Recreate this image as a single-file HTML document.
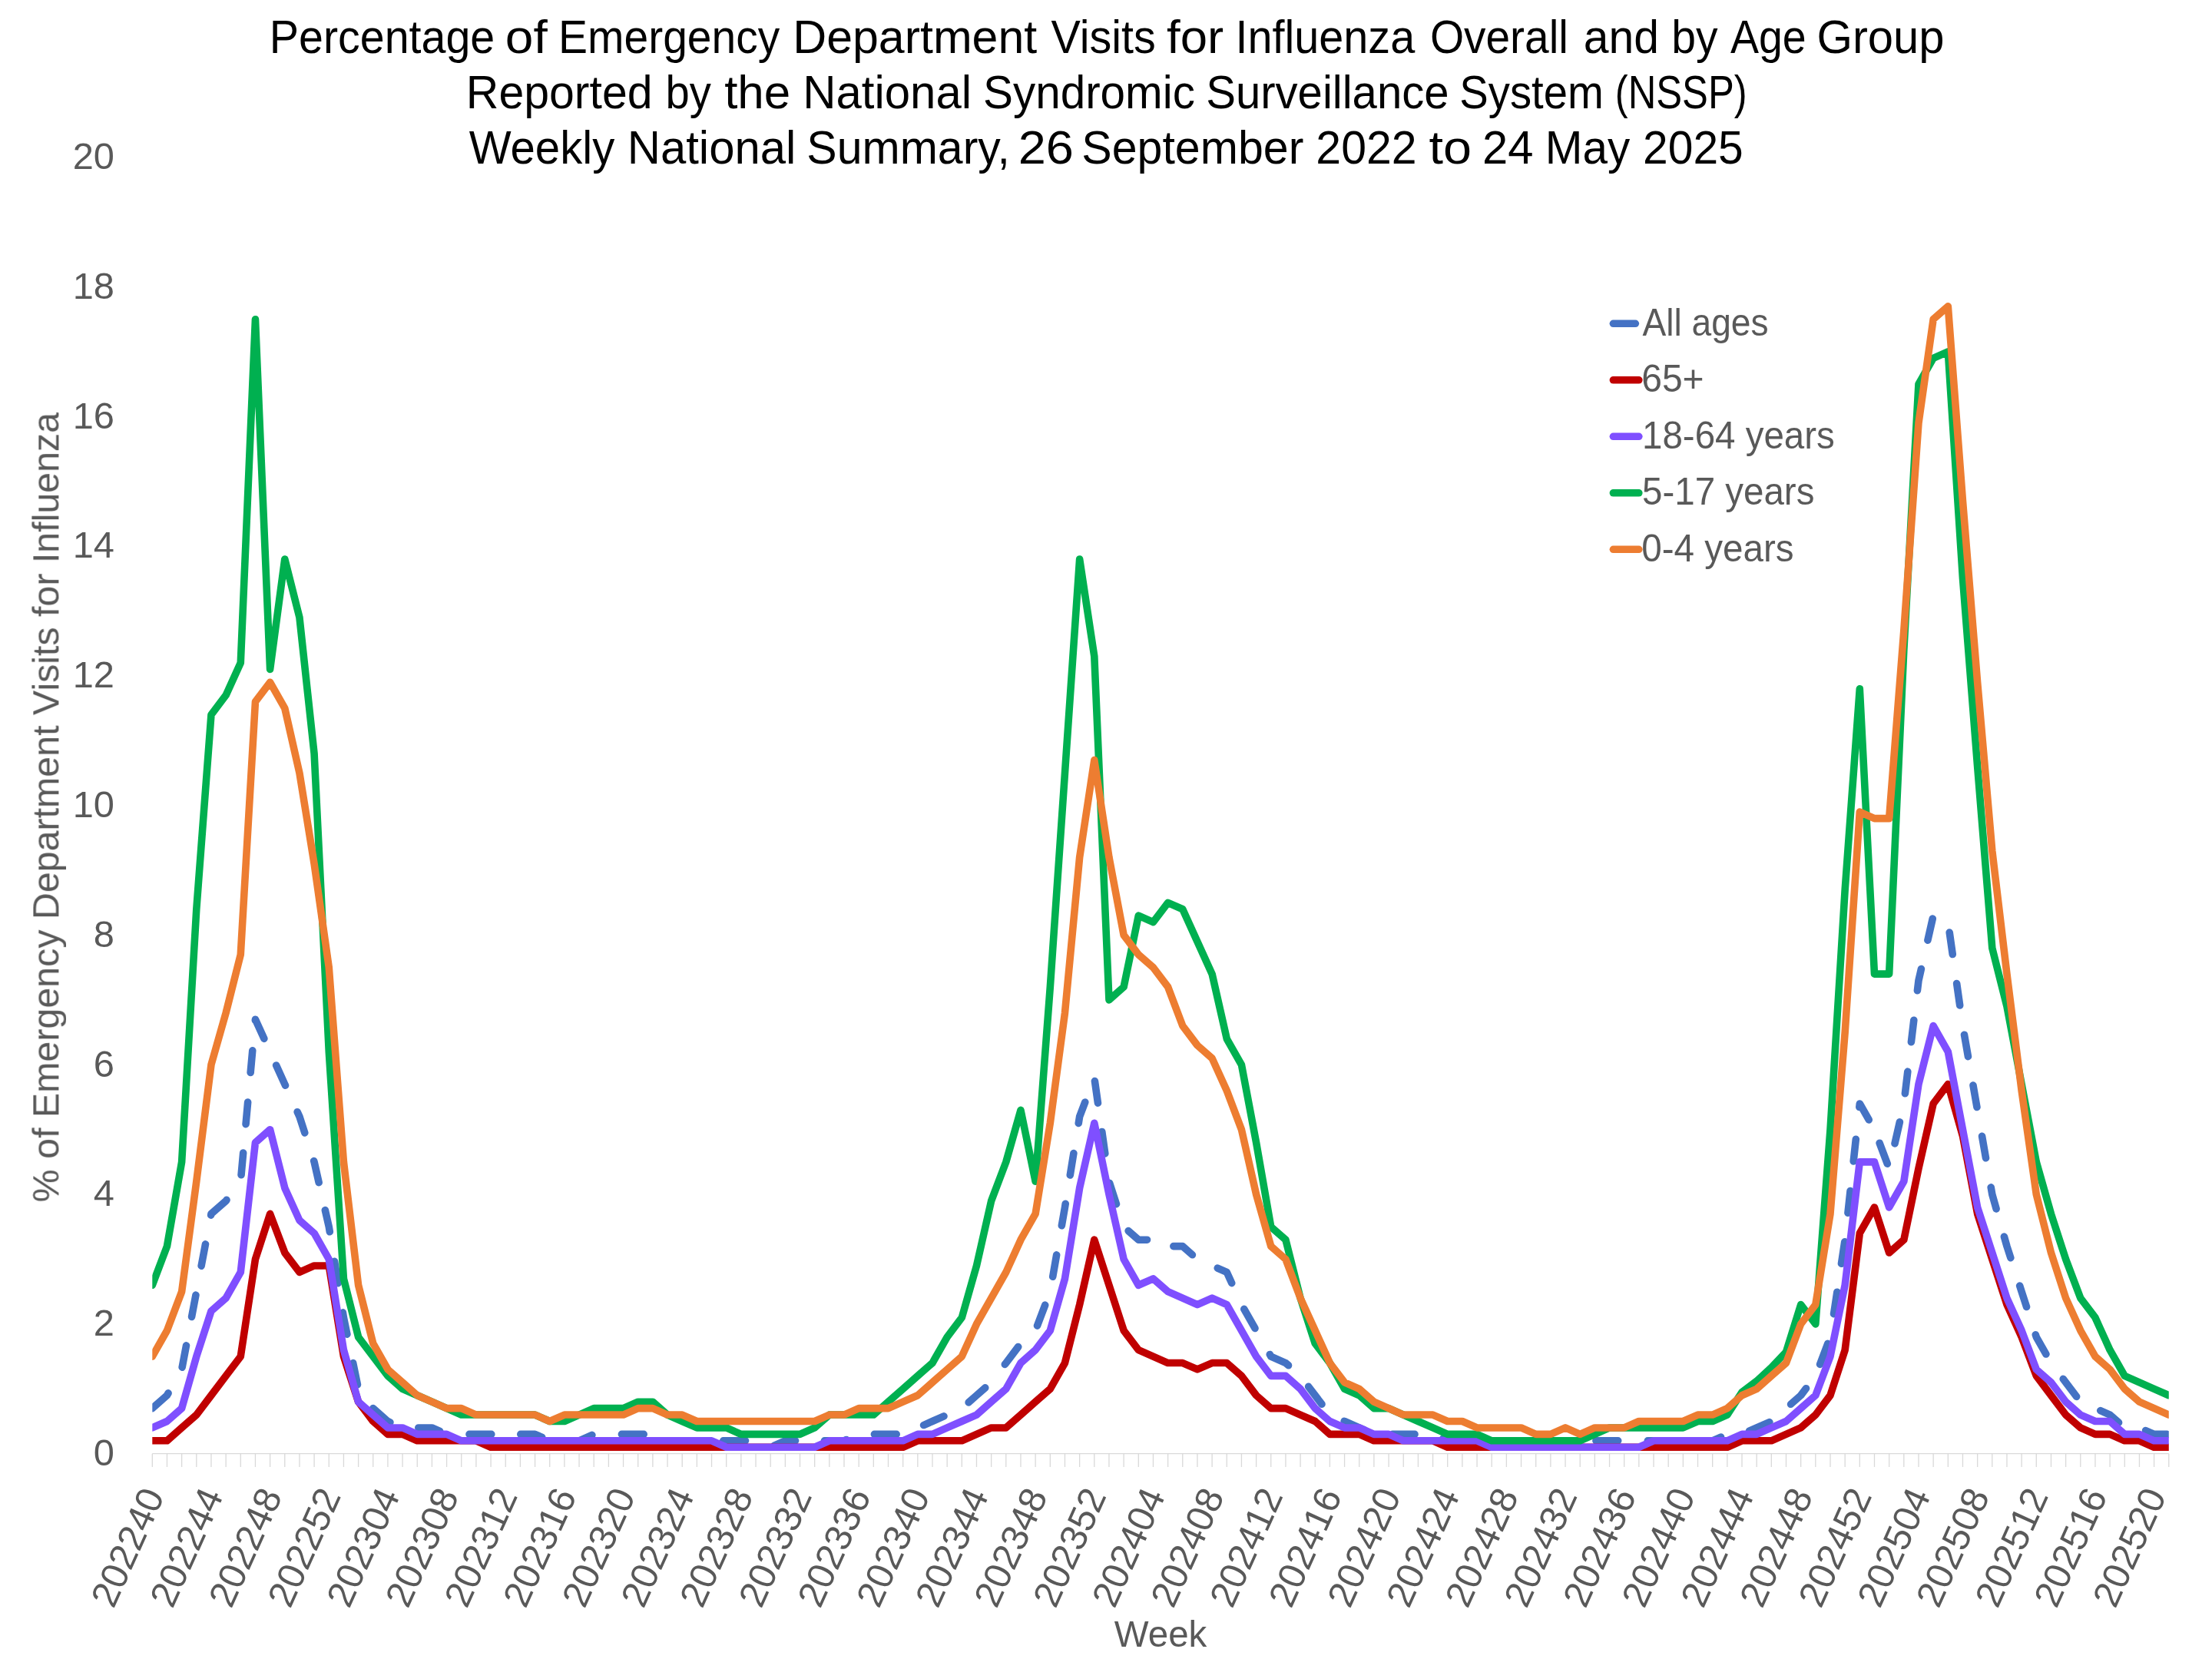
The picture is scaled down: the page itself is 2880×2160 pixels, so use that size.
<!DOCTYPE html><html><head><meta charset="utf-8"><style>html,body{margin:0;padding:0;background:#fff;}svg{display:block;}</style></head><body>
<svg xmlns="http://www.w3.org/2000/svg" width="2880" height="2160" viewBox="0 0 2880 2160" font-family='"Liberation Sans", sans-serif'>
<rect width="2880" height="2160" fill="#fff"/>
<defs><clipPath id="pa"><rect x="198.30" y="150" width="2625.47" height="1800"/></clipPath></defs>
<g style="will-change:transform">
<text x="350.79" y="69.30" font-size="61.6" fill="#000" textLength="293.46" lengthAdjust="spacingAndGlyphs">Percentage</text>
<text x="657.84" y="69.30" font-size="61.6" fill="#000" textLength="54.87" lengthAdjust="spacingAndGlyphs">of</text>
<text x="727.03" y="69.30" font-size="61.6" fill="#000" textLength="288.19" lengthAdjust="spacingAndGlyphs">Emergency</text>
<text x="1032.21" y="69.30" font-size="61.6" fill="#000" textLength="318.04" lengthAdjust="spacingAndGlyphs">Department</text>
<text x="1368.45" y="69.30" font-size="61.6" fill="#000" textLength="136.33" lengthAdjust="spacingAndGlyphs">Visits</text>
<text x="1519.00" y="69.30" font-size="61.6" fill="#000" textLength="74.15" lengthAdjust="spacingAndGlyphs">for</text>
<text x="1608.38" y="69.30" font-size="61.6" fill="#000" textLength="233.82" lengthAdjust="spacingAndGlyphs">Influenza</text>
<text x="1861.91" y="69.30" font-size="61.6" fill="#000" textLength="179.99" lengthAdjust="spacingAndGlyphs">Overall</text>
<text x="2061.70" y="69.30" font-size="61.6" fill="#000" textLength="98.30" lengthAdjust="spacingAndGlyphs">and</text>
<text x="2176.32" y="69.30" font-size="61.6" fill="#000" textLength="60.29" lengthAdjust="spacingAndGlyphs">by</text>
<text x="2252.89" y="69.30" font-size="61.6" fill="#000" textLength="98.78" lengthAdjust="spacingAndGlyphs">Age</text>
<text x="2365.39" y="69.30" font-size="61.6" fill="#000" textLength="166.22" lengthAdjust="spacingAndGlyphs">Group</text>
<text x="606.86" y="140.90" font-size="61.6" fill="#000" textLength="242.64" lengthAdjust="spacingAndGlyphs">Reported</text>
<text x="866.58" y="140.90" font-size="61.6" fill="#000" textLength="59.33" lengthAdjust="spacingAndGlyphs">by</text>
<text x="943.16" y="140.90" font-size="61.6" fill="#000" textLength="86.09" lengthAdjust="spacingAndGlyphs">the</text>
<text x="1045.29" y="140.90" font-size="61.6" fill="#000" textLength="219.72" lengthAdjust="spacingAndGlyphs">National</text>
<text x="1280.05" y="140.90" font-size="61.6" fill="#000" textLength="275.89" lengthAdjust="spacingAndGlyphs">Syndromic</text>
<text x="1570.16" y="140.90" font-size="61.6" fill="#000" textLength="316.42" lengthAdjust="spacingAndGlyphs">Surveillance</text>
<text x="1900.25" y="140.90" font-size="61.6" fill="#000" textLength="187.56" lengthAdjust="spacingAndGlyphs">System</text>
<text x="2102.75" y="140.90" font-size="61.6" fill="#000" textLength="171.89" lengthAdjust="spacingAndGlyphs">(NSSP)</text>
<text x="610.64" y="213.40" font-size="61.6" fill="#000" textLength="189.67" lengthAdjust="spacingAndGlyphs">Weekly</text>
<text x="816.69" y="213.40" font-size="61.6" fill="#000" textLength="219.61" lengthAdjust="spacingAndGlyphs">National</text>
<text x="1050.32" y="213.40" font-size="61.6" fill="#000" textLength="264.58" lengthAdjust="spacingAndGlyphs">Summary,</text>
<text x="1325.73" y="213.40" font-size="61.6" fill="#000" textLength="72.22" lengthAdjust="spacingAndGlyphs">26</text>
<text x="1408.32" y="213.40" font-size="61.6" fill="#000" textLength="289.06" lengthAdjust="spacingAndGlyphs">September</text>
<text x="1713.33" y="213.40" font-size="61.6" fill="#000" textLength="131.23" lengthAdjust="spacingAndGlyphs">2022</text>
<text x="1860.49" y="213.40" font-size="61.6" fill="#000" textLength="55.50" lengthAdjust="spacingAndGlyphs">to</text>
<text x="1930.10" y="213.40" font-size="61.6" fill="#000" textLength="66.46" lengthAdjust="spacingAndGlyphs">24</text>
<text x="2011.81" y="213.40" font-size="61.6" fill="#000" textLength="110.41" lengthAdjust="spacingAndGlyphs">May</text>
<text x="2139.04" y="213.40" font-size="61.6" fill="#000" textLength="130.72" lengthAdjust="spacingAndGlyphs">2025</text>
<text x="149.00" y="1908.00" font-size="48.8" fill="#595959" text-anchor="end">0</text>
<text x="149.00" y="1739.20" font-size="48.8" fill="#595959" text-anchor="end">2</text>
<text x="149.00" y="1570.40" font-size="48.8" fill="#595959" text-anchor="end">4</text>
<text x="149.00" y="1401.60" font-size="48.8" fill="#595959" text-anchor="end">6</text>
<text x="149.00" y="1232.80" font-size="48.8" fill="#595959" text-anchor="end">8</text>
<text x="149.00" y="1064.00" font-size="48.8" fill="#595959" text-anchor="end">10</text>
<text x="149.00" y="895.20" font-size="48.8" fill="#595959" text-anchor="end">12</text>
<text x="149.00" y="726.40" font-size="48.8" fill="#595959" text-anchor="end">14</text>
<text x="149.00" y="557.60" font-size="48.8" fill="#595959" text-anchor="end">16</text>
<text x="149.00" y="388.80" font-size="48.8" fill="#595959" text-anchor="end">18</text>
<text x="149.00" y="220.00" font-size="48.8" fill="#595959" text-anchor="end">20</text>
<text transform="translate(76.40,1051.15) rotate(-90)" font-size="49" fill="#595959" text-anchor="middle" textLength="1028.30" lengthAdjust="spacingAndGlyphs">% of Emergency Department Visits for Influenza</text>
<text transform="translate(199.30,1940.20) rotate(-65.7)" font-size="48.8" fill="#595959" text-anchor="end" dy="17">202240</text>
<text transform="translate(275.96,1940.20) rotate(-65.7)" font-size="48.8" fill="#595959" text-anchor="end" dy="17">202244</text>
<text transform="translate(352.61,1940.20) rotate(-65.7)" font-size="48.8" fill="#595959" text-anchor="end" dy="17">202248</text>
<text transform="translate(429.27,1940.20) rotate(-65.7)" font-size="48.8" fill="#595959" text-anchor="end" dy="17">202252</text>
<text transform="translate(505.92,1940.20) rotate(-65.7)" font-size="48.8" fill="#595959" text-anchor="end" dy="17">202304</text>
<text transform="translate(582.58,1940.20) rotate(-65.7)" font-size="48.8" fill="#595959" text-anchor="end" dy="17">202308</text>
<text transform="translate(659.24,1940.20) rotate(-65.7)" font-size="48.8" fill="#595959" text-anchor="end" dy="17">202312</text>
<text transform="translate(735.89,1940.20) rotate(-65.7)" font-size="48.8" fill="#595959" text-anchor="end" dy="17">202316</text>
<text transform="translate(812.55,1940.20) rotate(-65.7)" font-size="48.8" fill="#595959" text-anchor="end" dy="17">202320</text>
<text transform="translate(889.20,1940.20) rotate(-65.7)" font-size="48.8" fill="#595959" text-anchor="end" dy="17">202324</text>
<text transform="translate(965.86,1940.20) rotate(-65.7)" font-size="48.8" fill="#595959" text-anchor="end" dy="17">202328</text>
<text transform="translate(1042.52,1940.20) rotate(-65.7)" font-size="48.8" fill="#595959" text-anchor="end" dy="17">202332</text>
<text transform="translate(1119.17,1940.20) rotate(-65.7)" font-size="48.8" fill="#595959" text-anchor="end" dy="17">202336</text>
<text transform="translate(1195.83,1940.20) rotate(-65.7)" font-size="48.8" fill="#595959" text-anchor="end" dy="17">202340</text>
<text transform="translate(1272.48,1940.20) rotate(-65.7)" font-size="48.8" fill="#595959" text-anchor="end" dy="17">202344</text>
<text transform="translate(1349.14,1940.20) rotate(-65.7)" font-size="48.8" fill="#595959" text-anchor="end" dy="17">202348</text>
<text transform="translate(1425.80,1940.20) rotate(-65.7)" font-size="48.8" fill="#595959" text-anchor="end" dy="17">202352</text>
<text transform="translate(1502.45,1940.20) rotate(-65.7)" font-size="48.8" fill="#595959" text-anchor="end" dy="17">202404</text>
<text transform="translate(1579.11,1940.20) rotate(-65.7)" font-size="48.8" fill="#595959" text-anchor="end" dy="17">202408</text>
<text transform="translate(1655.76,1940.20) rotate(-65.7)" font-size="48.8" fill="#595959" text-anchor="end" dy="17">202412</text>
<text transform="translate(1732.42,1940.20) rotate(-65.7)" font-size="48.8" fill="#595959" text-anchor="end" dy="17">202416</text>
<text transform="translate(1809.08,1940.20) rotate(-65.7)" font-size="48.8" fill="#595959" text-anchor="end" dy="17">202420</text>
<text transform="translate(1885.73,1940.20) rotate(-65.7)" font-size="48.8" fill="#595959" text-anchor="end" dy="17">202424</text>
<text transform="translate(1962.39,1940.20) rotate(-65.7)" font-size="48.8" fill="#595959" text-anchor="end" dy="17">202428</text>
<text transform="translate(2039.04,1940.20) rotate(-65.7)" font-size="48.8" fill="#595959" text-anchor="end" dy="17">202432</text>
<text transform="translate(2115.70,1940.20) rotate(-65.7)" font-size="48.8" fill="#595959" text-anchor="end" dy="17">202436</text>
<text transform="translate(2192.36,1940.20) rotate(-65.7)" font-size="48.8" fill="#595959" text-anchor="end" dy="17">202440</text>
<text transform="translate(2269.01,1940.20) rotate(-65.7)" font-size="48.8" fill="#595959" text-anchor="end" dy="17">202444</text>
<text transform="translate(2345.67,1940.20) rotate(-65.7)" font-size="48.8" fill="#595959" text-anchor="end" dy="17">202448</text>
<text transform="translate(2422.32,1940.20) rotate(-65.7)" font-size="48.8" fill="#595959" text-anchor="end" dy="17">202452</text>
<text transform="translate(2498.98,1940.20) rotate(-65.7)" font-size="48.8" fill="#595959" text-anchor="end" dy="17">202504</text>
<text transform="translate(2575.64,1940.20) rotate(-65.7)" font-size="48.8" fill="#595959" text-anchor="end" dy="17">202508</text>
<text transform="translate(2652.29,1940.20) rotate(-65.7)" font-size="48.8" fill="#595959" text-anchor="end" dy="17">202512</text>
<text transform="translate(2728.95,1940.20) rotate(-65.7)" font-size="48.8" fill="#595959" text-anchor="end" dy="17">202516</text>
<text transform="translate(2805.60,1940.20) rotate(-65.7)" font-size="48.8" fill="#595959" text-anchor="end" dy="17">202520</text>
<text x="1511.10" y="2143.50" font-size="49" fill="#595959" text-anchor="middle" textLength="120.51" lengthAdjust="spacingAndGlyphs">Week</text>
<text x="2138.40" y="436.50" font-size="49.3" fill="#595959" textLength="164.20" lengthAdjust="spacingAndGlyphs">All ages</text>
<text x="2137.20" y="510.00" font-size="49.3" fill="#595959" textLength="81.40" lengthAdjust="spacingAndGlyphs">65+</text>
<text x="2138.00" y="583.50" font-size="49.3" fill="#595959" textLength="250.80" lengthAdjust="spacingAndGlyphs">18-64 years</text>
<text x="2138.00" y="657.00" font-size="49.3" fill="#595959" textLength="224.40" lengthAdjust="spacingAndGlyphs">5-17 years</text>
<text x="2137.20" y="730.50" font-size="49.3" fill="#595959" textLength="198.40" lengthAdjust="spacingAndGlyphs">0-4 years</text>
</g>
<path d="M198.30,1892.70H2823.77M198.30,1892.70V1910M217.46,1892.70V1910M236.63,1892.70V1910M255.79,1892.70V1910M274.96,1892.70V1910M294.12,1892.70V1910M313.28,1892.70V1910M332.45,1892.70V1910M351.61,1892.70V1910M370.78,1892.70V1910M389.94,1892.70V1910M409.10,1892.70V1910M428.27,1892.70V1910M447.43,1892.70V1910M466.60,1892.70V1910M485.76,1892.70V1910M504.92,1892.70V1910M524.09,1892.70V1910M543.25,1892.70V1910M562.42,1892.70V1910M581.58,1892.70V1910M600.74,1892.70V1910M619.91,1892.70V1910M639.07,1892.70V1910M658.24,1892.70V1910M677.40,1892.70V1910M696.56,1892.70V1910M715.73,1892.70V1910M734.89,1892.70V1910M754.06,1892.70V1910M773.22,1892.70V1910M792.38,1892.70V1910M811.55,1892.70V1910M830.71,1892.70V1910M849.88,1892.70V1910M869.04,1892.70V1910M888.20,1892.70V1910M907.37,1892.70V1910M926.53,1892.70V1910M945.70,1892.70V1910M964.86,1892.70V1910M984.02,1892.70V1910M1003.19,1892.70V1910M1022.35,1892.70V1910M1041.52,1892.70V1910M1060.68,1892.70V1910M1079.84,1892.70V1910M1099.01,1892.70V1910M1118.17,1892.70V1910M1137.34,1892.70V1910M1156.50,1892.70V1910M1175.66,1892.70V1910M1194.83,1892.70V1910M1213.99,1892.70V1910M1233.16,1892.70V1910M1252.32,1892.70V1910M1271.48,1892.70V1910M1290.65,1892.70V1910M1309.81,1892.70V1910M1328.98,1892.70V1910M1348.14,1892.70V1910M1367.30,1892.70V1910M1386.47,1892.70V1910M1405.63,1892.70V1910M1424.80,1892.70V1910M1443.96,1892.70V1910M1463.12,1892.70V1910M1482.29,1892.70V1910M1501.45,1892.70V1910M1520.62,1892.70V1910M1539.78,1892.70V1910M1558.94,1892.70V1910M1578.11,1892.70V1910M1597.27,1892.70V1910M1616.44,1892.70V1910M1635.60,1892.70V1910M1654.76,1892.70V1910M1673.93,1892.70V1910M1693.09,1892.70V1910M1712.26,1892.70V1910M1731.42,1892.70V1910M1750.58,1892.70V1910M1769.75,1892.70V1910M1788.91,1892.70V1910M1808.08,1892.70V1910M1827.24,1892.70V1910M1846.40,1892.70V1910M1865.57,1892.70V1910M1884.73,1892.70V1910M1903.90,1892.70V1910M1923.06,1892.70V1910M1942.22,1892.70V1910M1961.39,1892.70V1910M1980.55,1892.70V1910M1999.72,1892.70V1910M2018.88,1892.70V1910M2038.04,1892.70V1910M2057.21,1892.70V1910M2076.37,1892.70V1910M2095.54,1892.70V1910M2114.70,1892.70V1910M2133.86,1892.70V1910M2153.03,1892.70V1910M2172.19,1892.70V1910M2191.36,1892.70V1910M2210.52,1892.70V1910M2229.68,1892.70V1910M2248.85,1892.70V1910M2268.01,1892.70V1910M2287.18,1892.70V1910M2306.34,1892.70V1910M2325.50,1892.70V1910M2344.67,1892.70V1910M2363.83,1892.70V1910M2383.00,1892.70V1910M2402.16,1892.70V1910M2421.32,1892.70V1910M2440.49,1892.70V1910M2459.65,1892.70V1910M2478.82,1892.70V1910M2497.98,1892.70V1910M2517.14,1892.70V1910M2536.31,1892.70V1910M2555.47,1892.70V1910M2574.64,1892.70V1910M2593.80,1892.70V1910M2612.96,1892.70V1910M2632.13,1892.70V1910M2651.29,1892.70V1910M2670.46,1892.70V1910M2689.62,1892.70V1910M2708.78,1892.70V1910M2727.95,1892.70V1910M2747.11,1892.70V1910M2766.28,1892.70V1910M2785.44,1892.70V1910M2804.60,1892.70V1910M2823.77,1892.70V1910" stroke="#d9d9d9" stroke-width="1.3" fill="none"/>
<g clip-path="url(#pa)" fill="none" stroke-linejoin="round" stroke-linecap="round">
<path d="M198.30,1833.62 L217.46,1816.74 L219.07,1813.90 M237.16,1780.17 L242.51,1751.88 M249.59,1714.48 L254.94,1686.18 M262.14,1648.17 L267.49,1619.87 M274.64,1582.09 L274.96,1580.42 L294.12,1563.54 L295.06,1562.30 M314.05,1529.74 L316.66,1501.06 M320.06,1463.63 L322.66,1434.95 M326.16,1396.50 L328.76,1367.82 M332.34,1328.44 L332.45,1327.22 L343.85,1352.32 M359.61,1387.02 L370.78,1411.62 L371.52,1413.25 M387.18,1447.74 L389.94,1453.82 L396.77,1474.86 M408.67,1511.55 L409.10,1512.90 L415.17,1539.61 M423.34,1575.60 L428.27,1597.30 L429.32,1603.76 M435.56,1642.29 L440.18,1670.72 M446.37,1708.92 L447.43,1715.46 L451.92,1737.18 M459.64,1774.59 L465.46,1802.80 M485.75,1833.60 L485.76,1833.62 L504.92,1850.50 L507.89,1851.80 M544.80,1858.94 L562.42,1858.94 L572.65,1863.45 M611.00,1867.38 L619.91,1867.38 L639.07,1867.38 L639.80,1867.38 M677.80,1867.38 L696.56,1867.38 L705.75,1871.43 M743.60,1875.82 L754.06,1875.82 L770.84,1868.43 M809.40,1867.38 L811.55,1867.38 L830.71,1867.38 L838.20,1867.38 M874.66,1875.82 L888.20,1875.82 L903.46,1875.82 M941.70,1875.82 L945.70,1875.82 L964.86,1875.82 L970.50,1875.82 M1008.07,1882.11 L1022.35,1875.82 L1035.55,1875.82 M1073.46,1875.82 L1079.84,1875.82 L1099.01,1875.82 L1101.99,1874.51 M1138.40,1867.38 L1156.50,1867.38 L1167.20,1867.38 M1202.59,1855.52 L1213.99,1850.50 L1228.95,1843.91 M1261.14,1825.85 L1271.48,1816.74 L1282.75,1806.82 M1308.35,1776.47 L1309.81,1774.54 L1325.73,1753.50 M1350.50,1726.11 L1360.69,1699.18 M1370.70,1662.28 L1375.65,1633.91 M1382.33,1595.70 L1386.47,1571.98 L1387.22,1567.32 M1393.27,1530.01 L1397.89,1501.58 M1404.24,1462.41 L1405.63,1453.82 L1412.75,1435.02 M1425.42,1407.57 L1429.46,1436.08 M1434.77,1473.44 L1438.81,1501.96 M1444.61,1540.21 L1453.49,1567.61 M1469.11,1602.57 L1482.29,1614.18 L1493.53,1614.18 M1527.81,1622.62 L1539.78,1622.62 L1552.41,1633.74 M1585.23,1651.08 L1597.27,1656.38 L1603.74,1670.62 M1619.76,1704.43 L1633.98,1729.48 M1653.26,1763.44 L1654.76,1766.10 L1673.93,1774.54 L1677.53,1777.72 M1703.60,1805.30 L1712.26,1816.74 L1720.98,1828.27 M1750.19,1850.33 L1750.58,1850.50 L1769.75,1858.94 L1776.55,1861.94 M1813.22,1867.38 L1827.24,1867.38 L1842.02,1867.38 M1878.62,1873.13 L1884.73,1875.82 L1903.90,1875.82 L1906.86,1875.82 M1944.67,1875.82 L1961.39,1875.82 L1973.47,1875.82 M2011.29,1875.82 L2018.88,1875.82 L2038.04,1875.82 L2040.09,1875.82 M2077.90,1875.82 L2095.54,1875.82 L2106.70,1875.82 M2145.31,1875.82 L2153.03,1875.82 L2172.19,1875.82 L2174.11,1875.82 M2212.72,1875.82 L2229.68,1875.82 L2240.52,1871.05 M2277.48,1863.21 L2287.18,1858.94 L2303.84,1851.60 M2331.57,1828.27 L2344.67,1816.74 L2351.52,1807.69 M2369.54,1776.33 L2379.74,1749.40 M2387.55,1710.67 L2391.86,1682.19 M2397.45,1645.27 L2401.76,1616.79 M2405.94,1579.20 L2409.04,1550.57 M2413.21,1511.99 L2416.31,1483.35 M2420.83,1441.55 L2421.32,1436.94 L2433.25,1457.96 M2447.13,1488.25 L2457.32,1515.18 M2467.02,1488.90 L2473.39,1460.82 M2480.39,1423.76 L2483.81,1395.16 M2488.39,1356.79 L2491.81,1328.19 M2496.40,1289.77 L2497.98,1276.58 L2501.42,1261.45 M2509.87,1224.22 L2516.25,1196.14 M2538.21,1214.02 L2542.26,1242.54 M2547.64,1280.49 L2551.69,1309.00 M2557.49,1347.22 L2562.45,1375.59 M2569.00,1413.08 L2573.95,1441.46 M2580.57,1479.34 L2585.52,1507.71 M2592.19,1545.89 L2593.80,1555.10 L2599.11,1573.82 M2609.41,1610.10 L2612.96,1622.62 L2617.83,1637.63 M2629.65,1674.07 L2632.13,1681.70 L2638.54,1701.47 M2650.30,1737.73 L2651.29,1740.78 L2663.93,1763.04 M2686.25,1795.41 L2689.62,1799.86 L2703.63,1818.37 M2734.72,1836.60 L2747.11,1842.06 L2758.56,1852.14 M2793.63,1862.55 L2804.60,1867.38 L2821.42,1867.38" stroke="#4472C4" stroke-width="9.6"/>
<polyline points="198.30,1875.82 217.46,1875.82 236.63,1858.94 255.79,1842.06 274.96,1816.74 294.12,1791.42 313.28,1766.10 332.45,1639.50 351.61,1580.42 370.78,1631.06 389.94,1656.38 409.10,1647.94 428.27,1647.94 447.43,1766.10 466.60,1825.18 485.76,1850.50 504.92,1867.38 524.09,1867.38 543.25,1875.82 562.42,1875.82 581.58,1875.82 600.74,1875.82 619.91,1875.82 639.07,1884.26 658.24,1884.26 677.40,1884.26 696.56,1884.26 715.73,1884.26 734.89,1884.26 754.06,1884.26 773.22,1884.26 792.38,1884.26 811.55,1884.26 830.71,1884.26 849.88,1884.26 869.04,1884.26 888.20,1884.26 907.37,1884.26 926.53,1884.26 945.70,1884.26 964.86,1884.26 984.02,1884.26 1003.19,1884.26 1022.35,1884.26 1041.52,1884.26 1060.68,1884.26 1079.84,1884.26 1099.01,1884.26 1118.17,1884.26 1137.34,1884.26 1156.50,1884.26 1175.66,1884.26 1194.83,1875.82 1213.99,1875.82 1233.16,1875.82 1252.32,1875.82 1271.48,1867.38 1290.65,1858.94 1309.81,1858.94 1328.98,1842.06 1348.14,1825.18 1367.30,1808.30 1386.47,1774.54 1405.63,1698.58 1424.80,1614.18 1443.96,1673.26 1463.12,1732.34 1482.29,1757.66 1501.45,1766.10 1520.62,1774.54 1539.78,1774.54 1558.94,1782.98 1578.11,1774.54 1597.27,1774.54 1616.44,1791.42 1635.60,1816.74 1654.76,1833.62 1673.93,1833.62 1693.09,1842.06 1712.26,1850.50 1731.42,1867.38 1750.58,1867.38 1769.75,1867.38 1788.91,1875.82 1808.08,1875.82 1827.24,1875.82 1846.40,1875.82 1865.57,1875.82 1884.73,1884.26 1903.90,1884.26 1923.06,1884.26 1942.22,1884.26 1961.39,1884.26 1980.55,1884.26 1999.72,1884.26 2018.88,1884.26 2038.04,1884.26 2057.21,1884.26 2076.37,1884.26 2095.54,1884.26 2114.70,1884.26 2133.86,1884.26 2153.03,1884.26 2172.19,1884.26 2191.36,1884.26 2210.52,1884.26 2229.68,1884.26 2248.85,1884.26 2268.01,1875.82 2287.18,1875.82 2306.34,1875.82 2325.50,1867.38 2344.67,1858.94 2363.83,1842.06 2383.00,1816.74 2402.16,1757.66 2421.32,1605.74 2440.49,1571.98 2459.65,1631.06 2478.82,1614.18 2497.98,1521.34 2517.14,1436.94 2536.31,1411.62 2555.47,1479.14 2574.64,1580.42 2593.80,1639.50 2612.96,1698.58 2632.13,1740.78 2651.29,1791.42 2670.46,1816.74 2689.62,1842.06 2708.78,1858.94 2727.95,1867.38 2747.11,1867.38 2766.28,1875.82 2785.44,1875.82 2804.60,1884.26 2823.77,1884.26" stroke="#C00000" stroke-width="9.6"/>
<polyline points="198.30,1858.94 217.46,1850.50 236.63,1833.62 255.79,1766.10 274.96,1707.02 294.12,1690.14 313.28,1656.38 332.45,1487.58 351.61,1470.70 370.78,1546.66 389.94,1588.86 409.10,1605.74 428.27,1639.50 447.43,1757.66 466.60,1825.18 485.76,1842.06 504.92,1858.94 524.09,1858.94 543.25,1867.38 562.42,1867.38 581.58,1867.38 600.74,1875.82 619.91,1875.82 639.07,1875.82 658.24,1875.82 677.40,1875.82 696.56,1875.82 715.73,1875.82 734.89,1875.82 754.06,1875.82 773.22,1875.82 792.38,1875.82 811.55,1875.82 830.71,1875.82 849.88,1875.82 869.04,1875.82 888.20,1875.82 907.37,1875.82 926.53,1875.82 945.70,1884.26 964.86,1884.26 984.02,1884.26 1003.19,1884.26 1022.35,1884.26 1041.52,1884.26 1060.68,1884.26 1079.84,1875.82 1099.01,1875.82 1118.17,1875.82 1137.34,1875.82 1156.50,1875.82 1175.66,1875.82 1194.83,1867.38 1213.99,1867.38 1233.16,1858.94 1252.32,1850.50 1271.48,1842.06 1290.65,1825.18 1309.81,1808.30 1328.98,1774.54 1348.14,1757.66 1367.30,1732.34 1386.47,1664.82 1405.63,1546.66 1424.80,1462.26 1443.96,1555.10 1463.12,1639.50 1482.29,1673.26 1501.45,1664.82 1520.62,1681.70 1539.78,1690.14 1558.94,1698.58 1578.11,1690.14 1597.27,1698.58 1616.44,1732.34 1635.60,1766.10 1654.76,1791.42 1673.93,1791.42 1693.09,1808.30 1712.26,1833.62 1731.42,1850.50 1750.58,1858.94 1769.75,1858.94 1788.91,1867.38 1808.08,1867.38 1827.24,1875.82 1846.40,1875.82 1865.57,1875.82 1884.73,1875.82 1903.90,1875.82 1923.06,1875.82 1942.22,1884.26 1961.39,1884.26 1980.55,1884.26 1999.72,1884.26 2018.88,1884.26 2038.04,1884.26 2057.21,1884.26 2076.37,1884.26 2095.54,1884.26 2114.70,1884.26 2133.86,1884.26 2153.03,1875.82 2172.19,1875.82 2191.36,1875.82 2210.52,1875.82 2229.68,1875.82 2248.85,1875.82 2268.01,1867.38 2287.18,1867.38 2306.34,1858.94 2325.50,1850.50 2344.67,1833.62 2363.83,1816.74 2383.00,1766.10 2402.16,1673.26 2421.32,1512.90 2440.49,1512.90 2459.65,1571.98 2478.82,1538.22 2497.98,1411.62 2517.14,1335.66 2536.31,1369.42 2555.47,1470.70 2574.64,1571.98 2593.80,1631.06 2612.96,1690.14 2632.13,1732.34 2651.29,1782.98 2670.46,1799.86 2689.62,1825.18 2708.78,1842.06 2727.95,1850.50 2747.11,1850.50 2766.28,1867.38 2785.44,1867.38 2804.60,1875.82 2823.77,1875.82" stroke="#7F4FFF" stroke-width="9.6"/>
<polyline points="198.30,1673.26 217.46,1622.62 236.63,1512.90 255.79,1183.74 274.96,930.54 294.12,905.22 313.28,863.02 332.45,415.70 351.61,871.46 370.78,727.98 389.94,803.94 409.10,981.18 428.27,1369.42 447.43,1664.82 466.60,1740.78 485.76,1766.10 504.92,1791.42 524.09,1808.30 543.25,1816.74 562.42,1825.18 581.58,1833.62 600.74,1842.06 619.91,1842.06 639.07,1842.06 658.24,1842.06 677.40,1842.06 696.56,1842.06 715.73,1850.50 734.89,1850.50 754.06,1842.06 773.22,1833.62 792.38,1833.62 811.55,1833.62 830.71,1825.18 849.88,1825.18 869.04,1842.06 888.20,1850.50 907.37,1858.94 926.53,1858.94 945.70,1858.94 964.86,1867.38 984.02,1867.38 1003.19,1867.38 1022.35,1867.38 1041.52,1867.38 1060.68,1858.94 1079.84,1842.06 1099.01,1842.06 1118.17,1842.06 1137.34,1842.06 1156.50,1825.18 1175.66,1808.30 1194.83,1791.42 1213.99,1774.54 1233.16,1740.78 1252.32,1715.46 1271.48,1647.94 1290.65,1563.54 1309.81,1512.90 1328.98,1445.38 1348.14,1538.22 1367.30,1285.02 1386.47,1006.50 1405.63,727.98 1424.80,854.58 1443.96,1301.90 1463.12,1285.02 1482.29,1192.18 1501.45,1200.62 1520.62,1175.30 1539.78,1183.74 1558.94,1225.94 1578.11,1268.14 1597.27,1352.54 1616.44,1386.30 1635.60,1487.58 1654.76,1597.30 1673.93,1614.18 1693.09,1690.14 1712.26,1749.22 1731.42,1774.54 1750.58,1808.30 1769.75,1816.74 1788.91,1833.62 1808.08,1833.62 1827.24,1842.06 1846.40,1850.50 1865.57,1858.94 1884.73,1867.38 1903.90,1867.38 1923.06,1867.38 1942.22,1875.82 1961.39,1875.82 1980.55,1875.82 1999.72,1875.82 2018.88,1875.82 2038.04,1875.82 2057.21,1875.82 2076.37,1867.38 2095.54,1858.94 2114.70,1858.94 2133.86,1858.94 2153.03,1858.94 2172.19,1858.94 2191.36,1858.94 2210.52,1850.50 2229.68,1850.50 2248.85,1842.06 2268.01,1812.52 2287.18,1798.17 2306.34,1780.45 2325.50,1760.19 2344.67,1698.58 2363.83,1723.90 2383.00,1470.70 2402.16,1158.42 2421.32,896.78 2440.49,1268.14 2459.65,1268.14 2478.82,846.14 2497.98,500.10 2517.14,466.34 2536.31,457.90 2555.47,753.30 2574.64,998.06 2593.80,1234.38 2612.96,1310.34 2632.13,1411.62 2651.29,1512.90 2670.46,1580.42 2689.62,1639.50 2708.78,1690.14 2727.95,1715.46 2747.11,1757.66 2766.28,1791.42 2785.44,1799.86 2804.60,1808.30 2823.77,1816.74" stroke="#00B050" stroke-width="9.6"/>
<polyline points="198.30,1766.10 217.46,1732.34 236.63,1681.70 255.79,1538.22 274.96,1386.30 294.12,1318.78 313.28,1242.82 332.45,913.66 351.61,888.34 370.78,922.10 389.94,1006.50 409.10,1124.66 428.27,1259.70 447.43,1512.90 466.60,1673.26 485.76,1749.22 504.92,1782.98 524.09,1799.86 543.25,1816.74 562.42,1825.18 581.58,1833.62 600.74,1833.62 619.91,1842.06 639.07,1842.06 658.24,1842.06 677.40,1842.06 696.56,1842.06 715.73,1850.50 734.89,1842.06 754.06,1842.06 773.22,1842.06 792.38,1842.06 811.55,1842.06 830.71,1833.62 849.88,1833.62 869.04,1842.06 888.20,1842.06 907.37,1850.50 926.53,1850.50 945.70,1850.50 964.86,1850.50 984.02,1850.50 1003.19,1850.50 1022.35,1850.50 1041.52,1850.50 1060.68,1850.50 1079.84,1842.06 1099.01,1842.06 1118.17,1833.62 1137.34,1833.62 1156.50,1833.62 1175.66,1825.18 1194.83,1816.74 1213.99,1799.86 1233.16,1782.98 1252.32,1766.10 1271.48,1723.90 1290.65,1690.14 1309.81,1656.38 1328.98,1614.18 1348.14,1580.42 1367.30,1462.26 1386.47,1318.78 1405.63,1116.22 1424.80,989.62 1443.96,1116.22 1463.12,1217.50 1482.29,1242.82 1501.45,1259.70 1520.62,1285.02 1539.78,1335.66 1558.94,1360.98 1578.11,1377.86 1597.27,1420.06 1616.44,1470.70 1635.60,1555.10 1654.76,1622.62 1673.93,1639.50 1693.09,1690.14 1712.26,1732.34 1731.42,1774.54 1750.58,1799.86 1769.75,1808.30 1788.91,1825.18 1808.08,1833.62 1827.24,1842.06 1846.40,1842.06 1865.57,1842.06 1884.73,1850.50 1903.90,1850.50 1923.06,1858.94 1942.22,1858.94 1961.39,1858.94 1980.55,1858.94 1999.72,1867.38 2018.88,1867.38 2038.04,1858.94 2057.21,1867.38 2076.37,1858.94 2095.54,1858.94 2114.70,1858.94 2133.86,1850.50 2153.03,1850.50 2172.19,1850.50 2191.36,1850.50 2210.52,1842.06 2229.68,1842.06 2248.85,1833.62 2268.01,1816.74 2287.18,1808.30 2306.34,1791.42 2325.50,1774.54 2344.67,1723.90 2363.83,1698.58 2383.00,1580.42 2402.16,1344.10 2421.32,1057.14 2440.49,1065.58 2459.65,1065.58 2478.82,820.82 2497.98,550.74 2517.14,415.70 2536.31,398.82 2555.47,652.02 2574.64,888.34 2593.80,1107.78 2612.96,1268.14 2632.13,1420.06 2651.29,1555.10 2670.46,1631.06 2689.62,1690.14 2708.78,1732.34 2727.95,1766.10 2747.11,1782.98 2766.28,1808.30 2785.44,1825.18 2804.60,1833.62 2823.77,1842.06" stroke="#ED7D31" stroke-width="9.6"/>
</g>
<g fill="none" stroke-linecap="round">
<line x1="2100.4" y1="421.3" x2="2129.3" y2="421.3" stroke="#4472C4" stroke-width="9.6"/>
<line x1="2100.4" y1="494.8" x2="2133.8" y2="494.8" stroke="#C00000" stroke-width="9.6"/>
<line x1="2100.4" y1="568.3" x2="2133.8" y2="568.3" stroke="#7F4FFF" stroke-width="9.6"/>
<line x1="2100.4" y1="641.8" x2="2133.8" y2="641.8" stroke="#00B050" stroke-width="9.6"/>
<line x1="2100.4" y1="715.3" x2="2133.8" y2="715.3" stroke="#ED7D31" stroke-width="9.6"/>
</g>
</svg></body></html>
